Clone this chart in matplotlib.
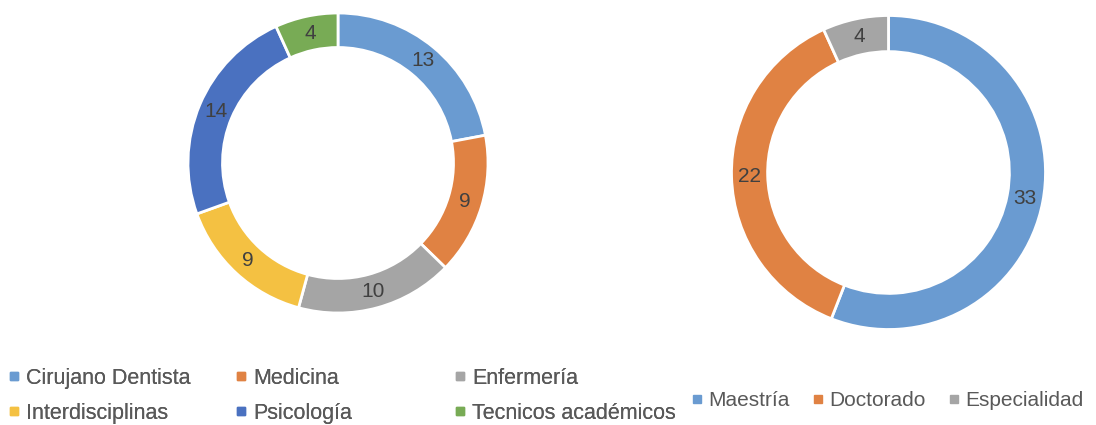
import matplotlib.pyplot as plt
from matplotlib.lines import Line2D

plt.rcParams['font.family'] = ['Liberation Sans', 'DejaVu Sans']

# left donut: areas
areas = ['Cirujano Dentista', 'Medicina', 'Enfermería',
         'Interdisciplinas', 'Psicología', 'Tecnicos académicos']
area_counts = [13, 9, 10, 9, 14, 4]
area_colors = ['#6a9bd1', '#e08243', '#a5a5a5', '#f4c142', '#4a71c0', '#78ab55']

# right donut: degree
degrees = ['Maestría', 'Doctorado', 'Especialidad']
degree_counts = [33, 22, 4]
degree_colors = ['#6a9bd1', '#e08243', '#a5a5a5']

W, H = 1096, 425
fig = plt.figure(figsize=(W / 100, H / 100), dpi=100)


def donut(cx, cy, r, values, colors):
    # cx, cy, r in pixels, cy measured from the top
    ax = fig.add_axes([(cx - r) / W, (H - cy - r) / H, 2 * r / W, 2 * r / H])
    total = sum(values)
    ax.pie(values, colors=colors, startangle=90, counterclock=False,
           radius=1.0, pctdistance=0.885,
           autopct=lambda p: '%d' % round(p * total / 100),
           wedgeprops=dict(width=0.23, edgecolor='white', linewidth=2),
           textprops=dict(color='#404040', fontsize=15))
    ax.set_xlim(-1, 1)
    ax.set_ylim(-1, 1)
    ax.set_aspect('equal')
    return ax


donut(338, 163, 150, area_counts, area_colors)
donut(888.5, 172.5, 157, degree_counts, degree_colors)


def handle(c):
    return Line2D([], [], marker='s', linestyle='none', markersize=5.5,
                  markerfacecolor=c, markeredgecolor=c)


legend_style = dict(frameon=False, labelcolor='#595959',
                    handlelength=0.55, handletextpad=0.3, borderpad=0,
                    borderaxespad=0)

# left legend: three columns of two rows
col_x = [8, 235, 454]
for i, x in enumerate(col_x):
    idx = [i, i + 3]
    leg = fig.legend([handle(area_colors[j]) for j in idx],
                     [areas[j] for j in idx], loc='center left',
                     bbox_to_anchor=(x / W, (H - 396) / H), fontsize=15.5,
                     labelspacing=0.65, **legend_style)
    fig.add_artist(leg)

# right legend: one row
fig.legend([handle(c) for c in degree_colors], degrees, loc='center left',
           bbox_to_anchor=(691 / W, (H - 401) / H), ncol=3, fontsize=15,
           columnspacing=1.05, **legend_style)

fig.savefig('out.png', dpi=100)
